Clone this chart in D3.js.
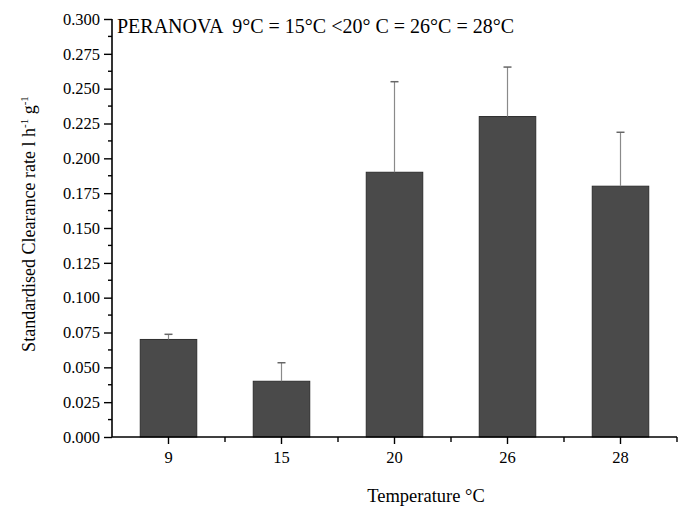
<!DOCTYPE html>
<html>
<head>
<meta charset="utf-8">
<script src="https://cdn.jsdelivr.net/npm/d3@7"></script>
<style>
  body { margin: 0; background: #fff; }
  text { font-family: "Liberation Serif", "Times New Roman", serif; fill: #000; }
</style>
</head>
<body>
<div id="chart"></div>
<script>
const categories = ['9', '15', '20', '26', '28'];
const means = [0.070, 0.040, 0.190, 0.230, 0.180];
const errors = [0.0037, 0.0133, 0.065, 0.0355, 0.0387];
const yTicks = [0, 0.025, 0.05, 0.075, 0.1, 0.125, 0.15, 0.175, 0.2, 0.225, 0.25, 0.275, 0.3];

const width = 686, height = 507;
const margin = { top: 19, right: 9, bottom: 70, left: 112 };
const w = width - margin.left - margin.right;
const h = height - margin.top - margin.bottom;

const svg = d3.select('#chart').append('svg')
    .attr('width', width)
    .attr('height', height);

const g = svg.append('g')
    .attr('transform', `translate(${margin.left},${margin.top})`);

const x = d3.scaleBand()
    .domain(categories)
    .range([0, w])
    .paddingInner(0.5)
    .paddingOuter(0.25);

const y = d3.scaleLinear()
    .domain([0, 0.3])
    .range([h, 0]);

// bars
g.selectAll('.bar')
    .data(means)
    .enter()
    .append('rect')
    .attr('class', 'bar')
    .attr('x', (d, i) => x(categories[i]))
    .attr('y', d => y(d))
    .attr('width', x.bandwidth())
    .attr('height', d => h - y(d))
    .attr('fill', '#4a4a4a')
    .attr('stroke', '#2e2e2e')
    .attr('stroke-width', 1);

// error bars (upper only)
const cx = i => x(categories[i]) + x.bandwidth() / 2;
g.selectAll('.err')
    .data(means)
    .enter()
    .append('line')
    .attr('x1', (d, i) => cx(i))
    .attr('x2', (d, i) => cx(i))
    .attr('y1', d => y(d))
    .attr('y2', (d, i) => y(d + errors[i]))
    .attr('stroke', '#8a8a8a')
    .attr('stroke-width', 1.2);

g.selectAll('.cap')
    .data(means)
    .enter()
    .append('line')
    .attr('x1', (d, i) => cx(i) - 4)
    .attr('x2', (d, i) => cx(i) + 4)
    .attr('y1', (d, i) => y(d + errors[i]))
    .attr('y2', (d, i) => y(d + errors[i]))
    .attr('stroke', '#666')
    .attr('stroke-width', 1.5);

// y axis
const yAxis = g.append('g')
    .call(d3.axisLeft(y).tickValues(yTicks).tickFormat(d3.format('.3f')).tickSize(8).tickPadding(4));
yAxis.select('.domain').attr('stroke-width', 1.6).attr('d', `M0,${h}V0`);
yAxis.selectAll('.tick line').attr('stroke-width', 1.4);
yAxis.selectAll('text').style('font-size', '16.5px').style('font-family', '"Liberation Serif", serif');

// y minor ticks
const yMinor = d3.range(yTicks.length - 1).map(i => (yTicks[i] + yTicks[i + 1]) / 2);
g.selectAll('.yminor')
    .data(yMinor)
    .enter()
    .append('line')
    .attr('x1', -4)
    .attr('x2', 0)
    .attr('y1', d => y(d))
    .attr('y2', d => y(d))
    .attr('stroke', '#000')
    .attr('stroke-width', 1.4);

// x axis
const xAxis = g.append('g')
    .attr('transform', `translate(0,${h})`)
    .call(d3.axisBottom(x).tickSize(7).tickPadding(7.5));
xAxis.select('.domain').attr('stroke-width', 1.6).attr('d', `M0,0H${w}`);
xAxis.selectAll('.tick line').attr('stroke-width', 1.4);
xAxis.selectAll('text').style('font-size', '16.5px').style('font-family', '"Liberation Serif", serif');

// x minor ticks at band boundaries
const step = x.step();
const xMinor = categories.slice(1).map(c => x(c) - step * 0.25).concat([w]);
g.selectAll('.xminor')
    .data(xMinor)
    .enter()
    .append('line')
    .attr('x1', d => d)
    .attr('x2', d => d)
    .attr('y1', h)
    .attr('y2', h + 5)
    .attr('stroke', '#000')
    .attr('stroke-width', 1.4);

// annotation
g.append('text')
    .attr('x', 5)
    .attr('y', 14)
    .style('font-size', '20px')
    .attr('xml:space', 'preserve')
    .text('PERANOVA  9°C = 15°C <20° C = 26°C = 28°C');

// axis titles
svg.append('text')
    .attr('x', 426)
    .attr('y', 502)
    .attr('text-anchor', 'middle')
    .style('font-size', '18.5px')
    .text('Temperature °C');

const yLabel = svg.append('text')
    .attr('transform', 'translate(35,224) rotate(-90)')
    .attr('text-anchor', 'middle')
    .style('font-size', '18px');
yLabel.append('tspan').text('Standardised Clearance rate l h');
yLabel.append('tspan').attr('dy', -7).style('font-size', '11px').text('-1');
yLabel.append('tspan').attr('dy', 7).text(' g');
yLabel.append('tspan').attr('dy', -7).style('font-size', '11px').text('-1');
</script>
</body>
</html>
